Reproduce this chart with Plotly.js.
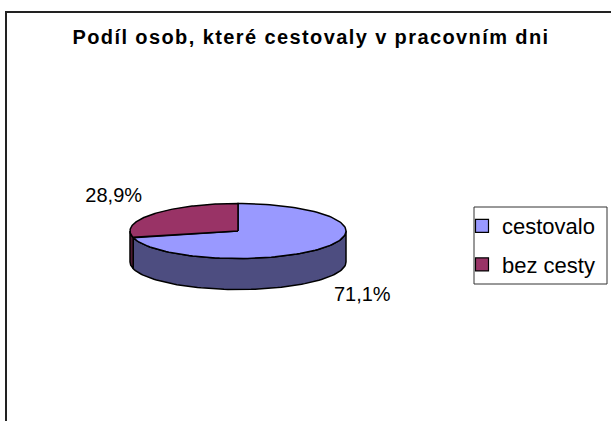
<!DOCTYPE html>
<html>
<head>
<meta charset="utf-8">
<script src="https://cdn.plot.ly/plotly-3.0.1.min.js"></script>
<style>
html,body{margin:0;padding:0;background:#fff;}
.gtitle{letter-spacing:1.4px;}
</style>
</head>
<body>
<div id="chart" style="width:611px;height:421px;"></div>
<script>
// ---- data ----
const categories = ['cestovalo', 'bez cesty'];
const values = [71.1, 28.9];
const topColors = ['#9999FF', '#993366'];
const sideColors = ['#4D4D80', '#4D1A33'];
const chartTitle = 'Podíl osob, které cestovaly v pracovním dni';

// ---- 3D pie geometry (layout, in axis units = pixels) ----
const cx = 238, cy = 231, rx = 108, ry = 27.5, depth = 31;
const rad = d => d * Math.PI / 180;
const px = d => cx + rx * Math.cos(rad(d));
const py = d => cy - ry * Math.sin(rad(d));

const total = values.reduce((a, b) => a + b, 0);
const slices = [];
let start = 90;
values.forEach((v, i) => {
  const end = start - v / total * 360;
  slices.push({ i, start, end });
  start = end;
});

function arc(a, b, n, dy) {
  const xs = [], ys = [];
  for (let k = 0; k <= n; k++) {
    const d = a + (b - a) * k / n;
    xs.push(px(d)); ys.push(py(d) + dy);
  }
  return [xs, ys];
}

const traces = [];
// side walls (front half only)
slices.forEach(s => {
  for (let k = -2; k <= 1; k++) {
    const lo = Math.max(s.end, -180 + 360 * k);
    const hi = Math.min(s.start, 360 * k);
    if (hi - lo > 0.01) {
      const [tx, ty] = arc(lo, hi, 80, 0);
      const [bx, by] = arc(hi, lo, 80, depth);
      traces.push({
        type: 'scatter', mode: 'lines', fill: 'toself',
        x: tx.concat(bx, [tx[0]]), y: ty.concat(by, [ty[0]]),
        fillcolor: sideColors[s.i], line: { color: '#000', width: 1.5 },
        hoverinfo: 'skip', showlegend: false
      });
    }
  }
});
// top faces
slices.forEach(s => {
  const [ax, ay] = arc(s.start, s.end, 120, 0);
  traces.push({
    type: 'scatter', mode: 'lines', fill: 'toself',
    x: [cx].concat(ax, [cx]), y: [cy].concat(ay, [cy]),
    fillcolor: topColors[s.i], line: { color: '#000', width: 1.5 },
    hoverinfo: 'skip', showlegend: false
  });
});
// data labels
const lx = [], ly = [], lt = [];
slices.forEach(s => {
  const m = (s.start + s.end) / 2;
  const sn = Math.sin(rad(m));
  lx.push(cx + rx * 1.46 * Math.cos(rad(m)));
  ly.push(cy - ry * 2.0 * sn + (sn < 0 ? depth : 0));
  lt.push(values[s.i].toFixed(1).replace('.', ',') + '%');
});
traces.push({
  type: 'scatter', mode: 'text', x: lx, y: ly, text: lt,
  textposition: 'middle center',
  textfont: { family: 'Arial, Liberation Sans, sans-serif', size: 20, color: '#000' },
  hoverinfo: 'skip', showlegend: false
});
// legend entries
categories.forEach((c, i) => {
  traces.push({
    type: 'scatter', mode: 'markers', x: [null], y: [null], name: c,
    legendgroup: 'g' + i,
    marker: { symbol: 'square', size: 13, color: topColors[i], line: { color: '#000', width: 1.2 } }
  });
});

const layout = {
  width: 611, height: 421,
  margin: { l: 0, r: 0, t: 0, b: 0 },
  paper_bgcolor: '#fff', plot_bgcolor: '#fff',
  font: { family: 'Arial, Liberation Sans, sans-serif', color: '#000' },
  title: {
    text: chartTitle,
    font: { family: 'Arial, Liberation Sans, sans-serif', size: 20, weight: 700, color: '#000' },
    x: 311 / 611, xanchor: 'center', xref: 'paper',
    y: 1 - 37 / 421, yanchor: 'middle', yref: 'paper'
  },
  xaxis: { range: [0, 611], visible: false, fixedrange: true },
  yaxis: { range: [421, 0], visible: false, fixedrange: true },
  showlegend: true,
  legend: {
    x: 462 / 611, y: 1 - 205 / 421, xanchor: 'left', yanchor: 'top',
    borderwidth: 0, bgcolor: 'rgba(0,0,0,0)',
    font: { family: 'Arial, Liberation Sans, sans-serif', size: 22, color: '#000' },
    traceorder: 'grouped', tracegroupgap: 7, itemwidth: 30
  },
  shapes: [
    {
      type: 'rect', xref: 'paper', yref: 'paper',
      x0: 6 / 611, x1: 1.02, y0: -0.02, y1: 1 - 12 / 421,
      line: { color: '#222', width: 2 }
    },
    {
      type: 'rect', xref: 'paper', yref: 'paper',
      x0: 474 / 611, x1: 607 / 611, y0: 1 - 284 / 421, y1: 1 - 207 / 421,
      line: { color: '#333', width: 1 }
    }
  ]
};

Plotly.newPlot('chart', traces, layout, { displayModeBar: false, staticPlot: true });
</script>
</body>
</html>
